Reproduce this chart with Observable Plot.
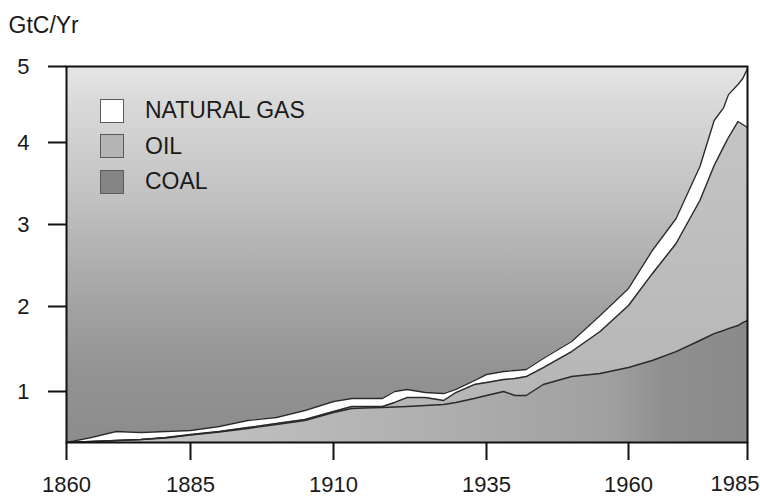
<!DOCTYPE html>
<html>
<head>
<meta charset="utf-8">
<script src="https://cdn.jsdelivr.net/npm/d3@7"></script>
<script src="https://cdn.jsdelivr.net/npm/@observablehq/plot@0.6"></script>
<style>
  html, body { margin: 0; padding: 0; background: #fff; }
  #chart { position: relative; width: 760px; height: 500px; font-family: "Liberation Sans", Arial, sans-serif; }
  .legend { position: absolute; left: 100px; top: 93px; color: #1a1a1a; font-size: 23px; }
  .legend .item { display: flex; align-items: center; height: 35.5px; }
  .legend .sw { width: 22px; height: 22px; border: 1.5px solid #5a5a5a; margin-right: 21px; box-sizing: content-box; }
</style>
</head>
<body>
<div id="chart"></div>
<script>
// Carbon emissions by fuel, GtC per year
const years = [1860,1865,1870,1875,1880,1885,1890,1895,1900,1905,1910,1913,1915,1918,1920,1922,1925,1928,1930,1933,1935,1938,1940,1942,1945,1950,1955,1960,1965,1970,1975,1978,1980,1981,1983,1984,1985];
const coal = [0.40,0.412,0.424,0.435,0.453,0.488,0.524,0.565,0.612,0.659,0.753,0.80,0.806,0.812,0.818,0.824,0.835,0.847,0.871,0.918,0.953,1.0,0.953,0.953,1.082,1.176,1.212,1.282,1.365,1.47,1.60,1.68,1.718,1.74,1.776,1.81,1.835];
const oil  = [0.0,0.0,0.0,0.0,0.006,0.006,0.005,0.011,0.012,0.012,0.012,0.024,0.018,0.012,0.053,0.105,0.094,0.047,0.117,0.164,0.153,0.141,0.20,0.223,0.20,0.294,0.494,0.73,1.035,1.298,1.693,2.04,2.232,2.326,2.50,2.427,2.362];
const gas  = [0.0,0.047,0.105,0.083,0.07,0.047,0.059,0.083,0.07,0.105,0.117,0.094,0.094,0.094,0.129,0.095,0.059,0.082,0.036,0.047,0.094,0.094,0.094,0.083,0.106,0.118,0.188,0.208,0.283,0.305,0.414,0.569,0.51,0.564,0.487,0.605,0.777];
const fuels = ["COAL", "OIL", "NATURAL GAS"];
const xTicks = [1860, 1885, 1910, 1935, 1960, 1985];
const yTicks = [1, 2, 3, 4, 5];
const yDomain = [0.4, 1, 2, 3, 4, 5];
const yLabel = "GtC/Yr";

const series = {"COAL": coal, "OIL": oil, "NATURAL GAS": gas};
const data = [];
years.forEach((yr, i) => fuels.forEach(f => data.push({year: yr, fuel: f, value: series[f][i]})));

const font = "'Liberation Sans', Arial, sans-serif";

const svg = Plot.plot({
  width: 760,
  height: 500,
  marginLeft: 66,
  marginRight: 13,
  marginTop: 66,
  marginBottom: 58,
  style: {fontFamily: font, fontSize: "22px", color: "#1a1a1a", background: "transparent"},
  x: {type: "linear", domain: xTicks, range: [66, 190, 333, 486, 628, 747]},
  y: {type: "linear", domain: yDomain, range: [442, 391, 306, 224, 142, 66]},
  color: {domain: fuels, range: ["url(#coalGrad)", "url(#oilGrad)", "#ffffff"]},
  marks: [
    Plot.frame({fill: "url(#bgGrad)", stroke: null}),
    Plot.areaY(data, {x: "year", y: "value", fill: "fuel", order: fuels, clip: true}),
    Plot.lineY(data, Plot.stackY2({x: "year", y: "value", z: "fuel", order: fuels, stroke: "#2a2a2a", strokeWidth: 1.4, clip: true})),
    Plot.frame({stroke: "#111", strokeWidth: 2}),
    Plot.axisY({ticks: yTicks, tickSize: 18, tickPadding: 19, strokeWidth: 2, stroke: "#111", fontSize: 22, tickFormat: d => String(d), label: null}),
    Plot.axisX({ticks: xTicks, tickSize: 18, tickPadding: 16, strokeWidth: 2, stroke: "#111", fontSize: 22, tickFormat: d => d === 1985 ? "" : String(d), label: null}),
    Plot.axisX({ticks: [1985], tickSize: 0, tickPadding: 33, textAnchor: "end", dx: 12, fontSize: 22, tickFormat: d => String(d), label: null}),
    Plot.text([yLabel], {frameAnchor: "top-left", dx: -58, dy: -34, textAnchor: "start", lineAnchor: "bottom", fontSize: 23, fill: "#1a1a1a"})
  ]
});

// gradients used by the fills
const defs = d3.select(svg).insert("defs", ":first-child");
const bg = defs.append("linearGradient").attr("id", "bgGrad").attr("x1", 0).attr("y1", 0).attr("x2", 0).attr("y2", 1);
[[0, "#e6e6e6"], [0.09, "#dadada"], [0.36, "#c0c0c0"], [0.62, "#a4a4a4"], [0.81, "#939393"], [1, "#8c8c8c"]]
  .forEach(([o, c]) => bg.append("stop").attr("offset", o).attr("stop-color", c));
const cg = defs.append("linearGradient").attr("id", "coalGrad").attr("x1", 0).attr("y1", 0).attr("x2", 1).attr("y2", 0);
[[0, "#cacaca"], [0.45, "#b4b4b4"], [0.8, "#a0a0a0"], [0.88, "#8f8f8f"], [1, "#8a8a8a"]]
  .forEach(([o, c]) => cg.append("stop").attr("offset", o).attr("stop-color", c));
const og = defs.append("linearGradient").attr("id", "oilGrad").attr("x1", 0).attr("y1", 0).attr("x2", 0).attr("y2", 1);
[[0, "#c4c4c4"], [1, "#b4b4b4"]]
  .forEach(([o, c]) => og.append("stop").attr("offset", o).attr("stop-color", c));

const chart = document.getElementById("chart");
chart.appendChild(svg);

// legend inside the frame
const legendColors = {"NATURAL GAS": "#ffffff", "OIL": "#b4b4b4", "COAL": "#858585"};
const legend = d3.select(chart).append("div").attr("class", "legend");
["NATURAL GAS", "OIL", "COAL"].forEach(f => {
  const item = legend.append("div").attr("class", "item");
  item.append("div").attr("class", "sw").style("background", legendColors[f]);
  item.append("span").text(f);
});
</script>
</body>
</html>
